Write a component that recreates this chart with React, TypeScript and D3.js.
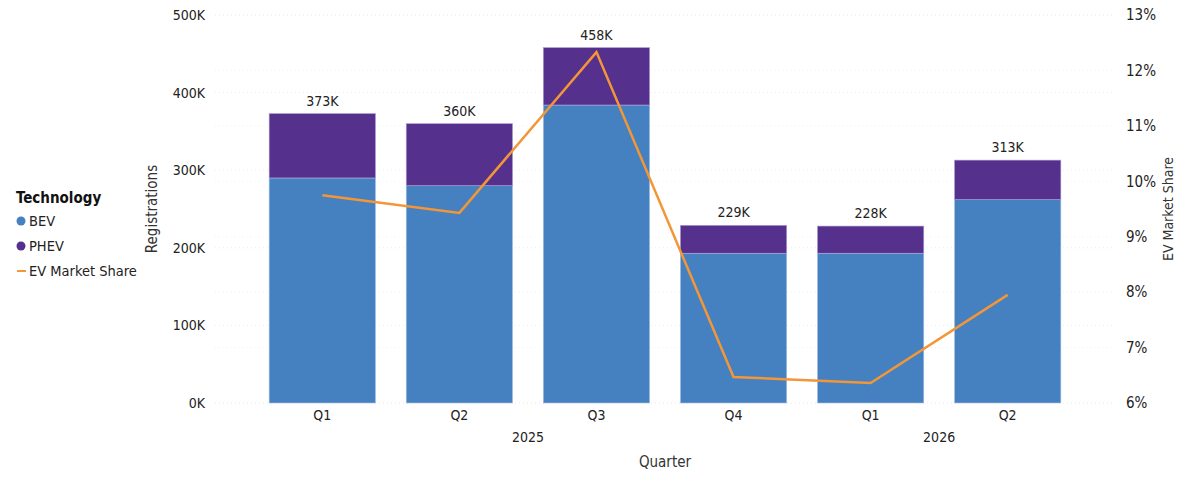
import * as d3 from "d3";

const quarters = ["Q1", "Q2", "Q3", "Q4", "Q1", "Q2"];
const years = ["2025", "2025", "2025", "2025", "2026", "2026"];
const bev = [290, 280, 384, 193, 193, 262];
const phev = [83, 80, 74, 36, 35, 51];
const totals = [373, 360, 458, 229, 228, 313];
const share = [9.75, 9.43, 12.33, 6.47, 6.36, 7.95];
const leftTicks = [0, 100, 200, 300, 400, 500];
const rightTicks = [6, 7, 8, 9, 10, 11, 12, 13];

const W = 1200;
const H = 487;
const font = "'DejaVu Sans Condensed', 'DejaVu Sans', sans-serif";
const BEV_C = "#4581c0";
const PHEV_C = "#55308c";
const LINE_C = "#f29637";

export default function App() {
  const keys = quarters.map((q, i) => `${years[i]}-${q}`);
  const x = d3.scaleBand<string>().domain(keys).range([215, 1115]).paddingInner(0.224).paddingOuter(0.395);
  const y = d3.scaleLinear().domain([0, 500]).range([403, 15]);
  const y2 = d3.scaleLinear().domain([6, 13]).range([403, 15]);
  const cx = (i: number) => (x(keys[i]) ?? 0) + x.bandwidth() / 2;

  const line = d3.line<number>().x((_, i) => cx(i)).y((d) => y2(d));

  const yearGroups = d3.groups(keys.map((k, i) => ({ k, i, yr: years[i] })), (d) => d.yr);

  return (
    <svg width={W} height={H} style={{ position: "absolute", left: 0, top: 0, fontFamily: font }}>
      <rect width={W} height={H} fill="#fff" />
      {/* grid */}
      {leftTicks.map((t) => (
        <line key={t} x1={215} x2={1115} y1={y(t)} y2={y(t)} stroke="#ececec" strokeDasharray="1,3" />
      ))}
      {rightTicks.map((t) => (
        <line key={"r" + t} x1={215} x2={1115} y1={y2(t)} y2={y2(t)} stroke="#f2f2f2" strokeDasharray="1,3" />
      ))}
      {/* left axis */}
      {leftTicks.map((t) => (
        <text key={t} x={205} y={y(t)} dy="0.35em" textAnchor="end" fontSize={14} fill="#222">
          {t}K
        </text>
      ))}
      <text transform={`translate(157,${y(250)}) rotate(-90)`} textAnchor="middle" fontSize={15} fill="#333">
        Registrations
      </text>
      {/* right axis */}
      {rightTicks.map((t) => (
        <text key={t} x={1126} y={y2(t)} dy="0.35em" textAnchor="start" fontSize={15} fill="#222">
          {t}%
        </text>
      ))}
      <text transform={`translate(1173,${y(250)}) rotate(-90)`} textAnchor="middle" fontSize={14} fill="#333">
        EV Market Share
      </text>
      {/* bars */}
      {keys.map((k, i) => (
        <g key={k}>
          <rect x={x(k)} y={y(bev[i])} width={x.bandwidth()} height={y(0) - y(bev[i])} fill={BEV_C} stroke="#a9c4e4" strokeWidth={0.6} />
          <rect
            x={x(k)}
            y={y(bev[i] + phev[i])}
            width={x.bandwidth()}
            height={y(bev[i]) - y(bev[i] + phev[i])}
            fill={PHEV_C}
            stroke="#b3a2d2"
            strokeWidth={0.6}
          />
          <text x={cx(i)} y={y(totals[i]) - 8} textAnchor="middle" fontSize={14} fill="#222">
            {totals[i]}K
          </text>
          <text x={cx(i)} y={420} textAnchor="middle" fontSize={14} fill="#222">
            {quarters[i]}
          </text>
        </g>
      ))}
      {yearGroups.map(([yr, items]) => (
        <text key={yr} x={(cx(items[0].i) + cx(items[items.length - 1].i)) / 2} y={442} textAnchor="middle" fontSize={14} fill="#222">
          {yr}
        </text>
      ))}
      <text x={665} y={467} textAnchor="middle" fontSize={15} fill="#333">
        Quarter
      </text>
      {/* line */}
      <path d={line(share) ?? ""} fill="none" stroke={LINE_C} strokeWidth={2.5} strokeLinejoin="miter" />
      {/* legend */}
      <text x={16} y={203} fontSize={15} fontWeight="bold" fill="#111">
        Technology
      </text>
      <circle cx={21} cy={221} r={4.5} fill={BEV_C} />
      <text x={29} y={226} fontSize={14.5} fill="#222">
        BEV
      </text>
      <circle cx={21} cy={246} r={4.5} fill={PHEV_C} />
      <text x={29} y={251} fontSize={14.5} fill="#222">
        PHEV
      </text>
      <line x1={17} x2={26} y1={271} y2={271} stroke={LINE_C} strokeWidth={2} />
      <text x={29} y={276} fontSize={14.5} fill="#222">
        EV Market Share
      </text>
    </svg>
  );
}
